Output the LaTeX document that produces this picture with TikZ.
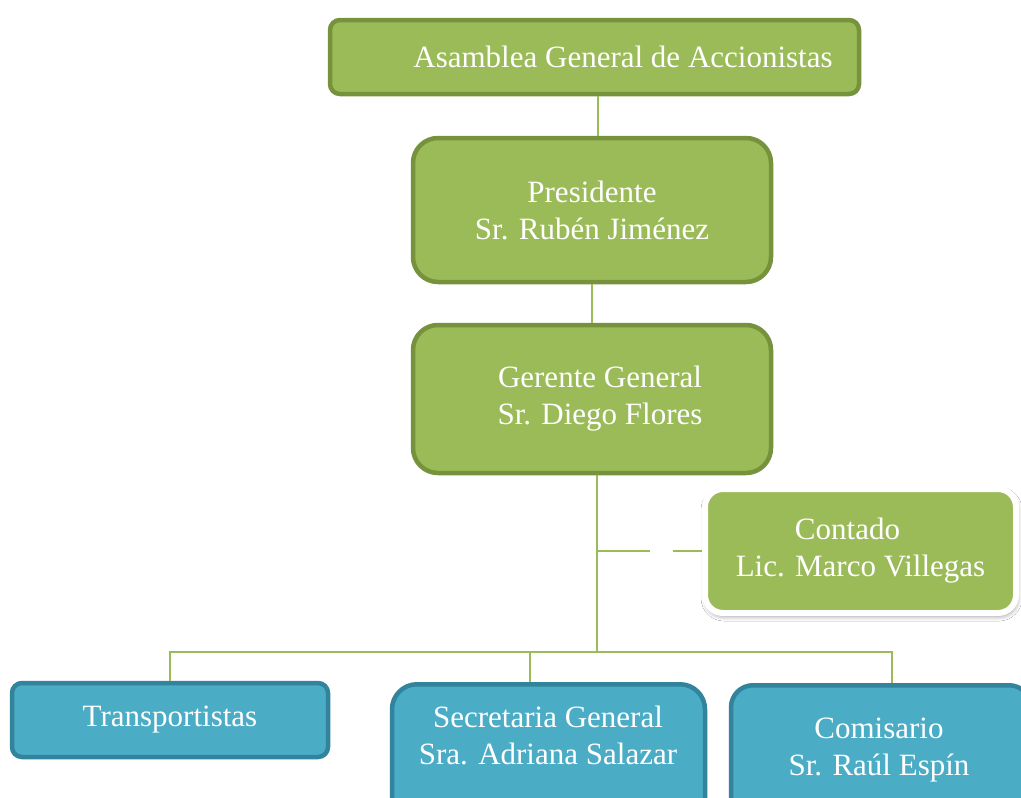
\documentclass[tikz,border=0pt]{standalone}
\usepackage{fontspec}
\setmainfont{Liberation Serif}
\usetikzlibrary{positioning,shadows.blur}
\definecolor{boxgreen}{HTML}{9BBB59}
\definecolor{edgegreen}{HTML}{76923C}
\definecolor{boxblue}{HTML}{4BACC6}
\definecolor{edgeblue}{HTML}{31849B}
\tikzset{
  boxtext/.style={align=center, text=white, inner sep=0pt, font=\fontsize{31}{37}\selectfont},
  greenbox/.style={boxtext, draw=edgegreen, fill=boxgreen, line width=4.5pt, rounded corners=25pt},
  contbox/.style={boxtext, draw=white, fill=boxgreen, line width=6pt, rounded corners=18pt,
    blur shadow={shadow xshift=1pt, shadow yshift=-3pt, shadow blur radius=5pt, shadow opacity=45}},
  bluebox/.style={boxtext, draw=edgeblue, fill=boxblue, line width=4.5pt, rounded corners=25pt},
  conn/.style={draw=boxgreen, line width=2pt}
}
\begin{document}
\begin{tikzpicture}[x=1pt, y=-1pt]
\useasboundingbox[fill=white] (0,0) rectangle (1021,798);
% green boxes
\node[greenbox, rounded corners=10pt, minimum width=529pt, minimum height=74pt] (asm) at (594.5,57) {\hspace*{57pt}Asamblea General de Accionistas};
\node[greenbox, minimum width=358pt, minimum height=144pt] (pres) at (592,210) {Presidente\\Sr. Rubén Jiménez};
\node[greenbox, minimum width=358pt, minimum height=148pt] (ger) at (592,399) {\hspace*{16pt}Gerente General\\\hspace*{16pt}Sr. Diego Flores};
\node[contbox, minimum width=311pt, minimum height=124pt] (cont) at (860.5,551) {Contado\hspace*{26pt}\\Lic. Marco Villegas};
% blue boxes
\node[bluebox, rounded corners=10pt, minimum width=316pt, minimum height=74pt] (trans) at (170,720) {Transportistas};
\node[bluebox, minimum width=313pt, minimum height=160pt, anchor=north] (sec) at (548.5,682) {};
\node[boxtext] (sectext) at (548,735) {Secretaria General\\Sra. Adriana Salazar};
\node[bluebox, rounded corners=22pt, minimum width=300pt, minimum height=160pt, anchor=north] (com) at (881,683) {};
\node[boxtext] (comtext) at (879,750) {Comisario\\Sr. Raúl Espín};
% connectors
\coordinate (bus) at (597,652);
\draw[conn] ([xshift=3.5pt]asm.south) -- ([xshift=6pt]pres.north);
\draw[conn] (pres.south) -- (ger.north);
\draw[conn] (ger.south -| bus) -- (bus);
\draw[conn, dash pattern=on 53pt off 23pt on 80pt] (bus |- cont.west) -- (cont.west);
\draw[conn] (trans.north) |- (bus) -| ([xshift=11pt]com.north);
\draw[conn] ([xshift=-18.5pt]sec.north) -- ([xshift=-18.5pt]sec.north |- bus);
\end{tikzpicture}
\end{document}
